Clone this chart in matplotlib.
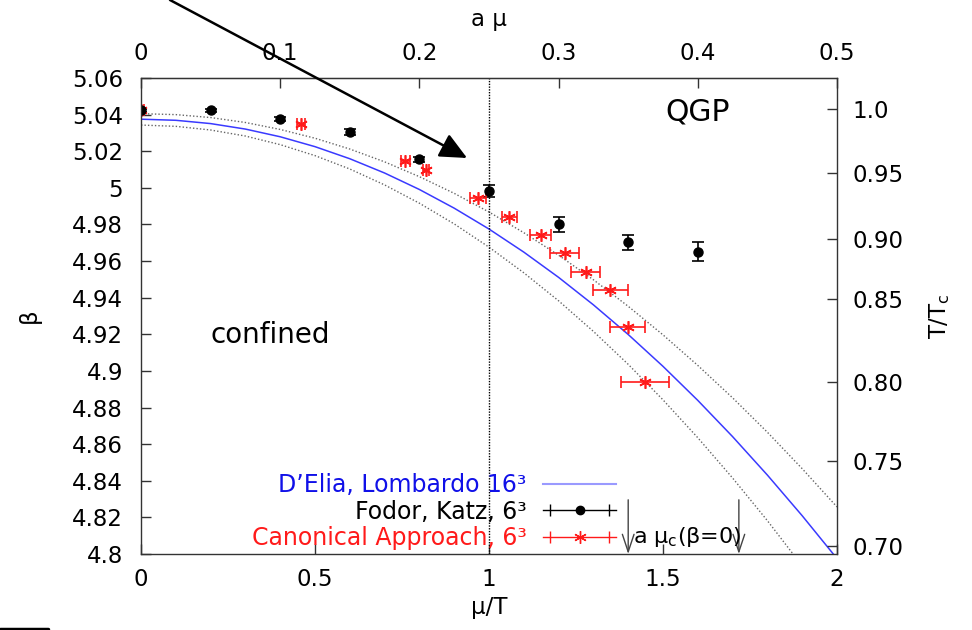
import numpy as np
import matplotlib
matplotlib.use("Agg")
import matplotlib.pyplot as plt
from matplotlib.lines import Line2D
from matplotlib.legend_handler import HandlerLine2D, HandlerTuple

plt.rcParams["font.family"] = ["DejaVu Sans"]
plt.rcParams["font.size"] = 16.5
plt.rcParams["mathtext.fontset"] = "custom"
plt.rcParams["mathtext.rm"] = "DejaVu Sans"
plt.rcParams["mathtext.it"] = "DejaVu Sans"
plt.rcParams["mathtext.bf"] = "DejaVu Sans:bold"

# D'Elia-Lombardo fit (central + band)
mu_fit = [0.0, 0.1, 0.2, 0.3, 0.4, 0.5, 0.6, 0.7, 0.8, 0.9, 1.0,
          1.1, 1.2, 1.3, 1.4, 1.5, 1.6, 1.7, 1.8, 1.9, 2.0]
beta_fit = [5.0375, 5.0369, 5.0351, 5.0321, 5.0279, 5.0225, 5.0159, 5.0081, 4.9991,
            4.9889, 4.9775, 4.9649, 4.9511, 4.9361, 4.9199, 4.9025, 4.8839, 4.8641,
            4.8431, 4.8209, 4.7975]
beta_hi = [5.0405, 5.0400, 5.0384, 5.0357, 5.0319, 5.0271, 5.0212, 5.0142, 5.0061,
           4.9970, 4.9868, 4.9755, 4.9632, 4.9498, 4.9353, 4.9197, 4.9030, 4.8853,
           4.8665, 4.8466, 4.8257]
beta_lo = [5.0343, 5.0336, 5.0316, 5.0283, 5.0236, 5.0176, 5.0103, 5.0016, 4.9916,
           4.9803, 4.9676, 4.9536, 4.9383, 4.9216, 4.9036, 4.8842, 4.8635, 4.8415,
           4.8182, 4.7935, 4.7675]

# Fodor, Katz 6^3
mu_fk = [0.0, 0.2, 0.4, 0.6, 0.8, 1.0, 1.2, 1.4, 1.6]
beta_fk = [5.0425, 5.0424, 5.0375, 5.0305, 5.0156, 4.9983, 4.9801, 4.9703, 4.9652]
err_fk = [0.0008, 0.0008, 0.001, 0.0015, 0.0015, 0.0032, 0.004, 0.004, 0.005]

# Canonical approach 6^3
mu_ca = [0.0, 0.459, 0.760, 0.819, 0.969, 1.058, 1.148, 1.218, 1.278, 1.348, 1.398, 1.448]
beta_ca = [5.0425, 5.0347, 5.0147, 5.0098, 4.9943, 4.9843, 4.9741, 4.9643, 4.9541,
           4.9442, 4.9242, 4.8939]
xerr_ca = [0.008, 0.012, 0.012, 0.010, 0.023, 0.022, 0.029, 0.042, 0.041, 0.050,
           0.049, 0.070]

# right axis T/Tc tick positions (in beta)
tc_beta = [5.0428, 5.0081, 4.9721, 4.9393, 4.894, 4.8509, 4.8045]
tc_labels = ["1.0", "0.95", "0.90", "0.85", "0.80", "0.75", "0.70"]

beta_ticks = [4.8, 4.82, 4.84, 4.86, 4.88, 4.9, 4.92, 4.94, 4.96, 4.98, 5.0, 5.02, 5.04, 5.06]
beta_labels = ["4.8", "4.82", "4.84", "4.86", "4.88", "4.9", "4.92", "4.94", "4.96",
               "4.98", "5", "5.02", "5.04", "5.06"]
mu_ticks = [0, 0.5, 1, 1.5, 2]
mu_labels = ["0", "0.5", "1", "1.5", "2"]
amu_ticks = [0, 0.1, 0.2, 0.3, 0.4, 0.5]
amu_labels = ["0", "0.1", "0.2", "0.3", "0.4", "0.5"]
mu_c = [1.40, 1.718]  # a mu_c(beta=0) in mu/T units
series_labels = ["D’Elia, Lombardo 16³", "Fodor, Katz, 6³", "Canonical Approach, 6³"]

fig = plt.figure(figsize=(9.72, 6.3), dpi=100)
ax = fig.add_axes([141 / 972, 1 - 554 / 630, 696 / 972, 476 / 630])
frame = "#333333"
red = "#ff1a1a"

ax.plot(mu_fit, beta_hi, color="#666666", lw=1, ls=(0, (1, 1.5)))
ax.plot(mu_fit, beta_lo, color="#666666", lw=1, ls=(0, (1, 1.5)))
ax.plot(mu_fit, beta_fit, color="#3a3aff", lw=1.1)
ax.axvline(1.0, color="k", lw=1, ls=(0, (1, 1)))

ax.errorbar(mu_fk, beta_fk, yerr=err_fk, fmt="o", color="k", ms=6.5, capsize=4,
            elinewidth=1.2, capthick=1.2)
ax.errorbar(mu_ca, beta_ca, xerr=xerr_ca, fmt="none", ecolor=red, capsize=4,
            elinewidth=1.2, capthick=1.2)
ax.plot(mu_ca, beta_ca, ls="none", marker=(6, 2, 0), ms=9, color=red, mew=1.2)

ax.set_xlim(0, 2)
ax.set_ylim(4.8, 5.06)
ax.set_xticks(mu_ticks, labels=mu_labels)
ax.set_yticks(beta_ticks, labels=beta_labels)
ax.tick_params(direction="in", length=7, width=1, color=frame, top=False, right=False)
ax.tick_params(axis="y", pad=13)
ax.tick_params(axis="x", pad=10)
for s in ax.spines.values():
    s.set_color(frame)
    s.set_linewidth(1)
ax.set_xlabel("μ/T", labelpad=4)
ax.set_ylabel("β", labelpad=22)

top = ax.secondary_xaxis("top", functions=(lambda x: x / 4, lambda x: x * 4))
top.set_xticks(amu_ticks, labels=amu_labels)
top.tick_params(direction="in", length=7, width=1, color=frame, pad=9)
top.set_xlabel("a μ", labelpad=12)

ax2 = ax.twinx()
ax2.set_ylim(4.8, 5.06)
ax2.set_yticks(tc_beta, labels=tc_labels)
ax2.tick_params(direction="in", length=7, width=1, color=frame, pad=11)
for s in ax2.spines.values():
    s.set_visible(False)
ax2.set_ylabel("T/T$_{\\rm c}$", labelpad=17)

# big arrow coming from outside
ax.annotate("", xy=(0.937, 5.0163), xycoords="data", xytext=(170 / 972, 1.0),
            textcoords="figure fraction", annotation_clip=False,
            arrowprops=dict(arrowstyle="-|>,head_length=0.75,head_width=0.35",
                            mutation_scale=22, lw=1.8, color="k", shrinkA=0, shrinkB=0))

for m in mu_c:
    ax.annotate("", xy=(m, 4.8), xytext=(m, 4.8296),
                arrowprops=dict(arrowstyle="->,head_length=0.9,head_width=0.3",
                                mutation_scale=14, lw=1, color="#444444",
                                shrinkA=0, shrinkB=0))
ax.text(1.414, 4.8094, "a $\\mu_{\\rm c}$(β=0)", va="center", ha="left", fontsize=16)

ax.text(1.60, 5.0414, "QGP", ha="center", va="center", fontsize=21.5)
ax.text(0.37, 4.9197, "confined", ha="center", va="center", fontsize=20)

# legend (gnuplot style: text right, sample on the right)
fk_dot = Line2D([], [], color="k", marker="o", ms=6, lw=1)
fk_cap = Line2D([], [], color="k", marker="|", ms=9, lw=0, mew=1)
ca_dot = Line2D([], [], color=red, marker=(6, 2, 0), ms=9, lw=1)
ca_cap = Line2D([], [], color=red, marker="|", ms=9, lw=0, mew=1)
leg_b = Line2D([], [], color="#9a9aff", lw=1.5)
hmap = {fk_dot: HandlerLine2D(numpoints=1), ca_dot: HandlerLine2D(numpoints=1),
        fk_cap: HandlerLine2D(numpoints=2), ca_cap: HandlerLine2D(numpoints=2),
        tuple: HandlerTuple(ndivide=1, pad=0)}
leg = ax.legend([leg_b, (fk_dot, fk_cap), (ca_dot, ca_cap)], series_labels,
                handler_map=hmap, markerfirst=False, frameon=False, loc="lower right",
                bbox_to_anchor=((620 - 141) / 696, 0.0), borderpad=0.15, handlelength=3.1,
                handletextpad=0.7, labelspacing=0.12, fontsize=17, borderaxespad=0)
for t, c in zip(leg.get_texts(), ["#1010e8", "k", red]):
    t.set_color(c)

fig.add_artist(Line2D([0, 48 / 972], [1.5 / 630, 1.5 / 630], transform=fig.transFigure,
                      lw=2.5, color="k", solid_capstyle="round"))

fig.savefig("out.png", dpi=100)
